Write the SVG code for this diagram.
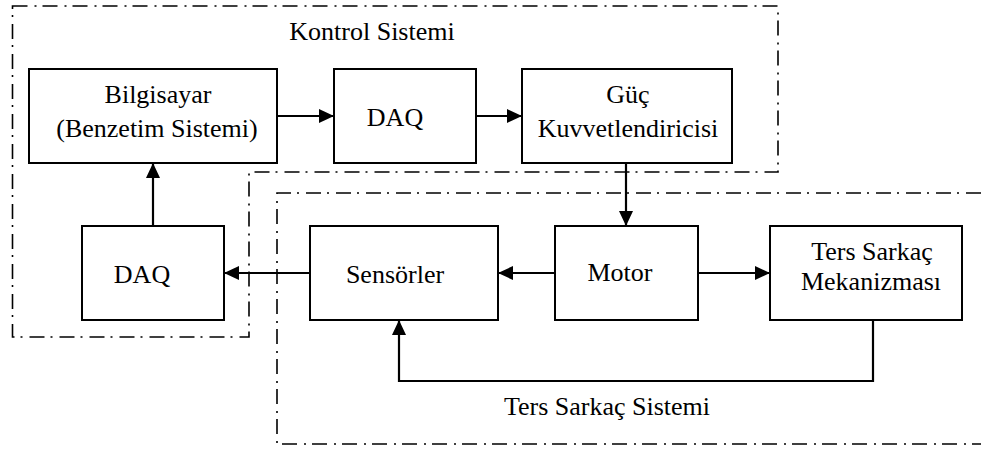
<svg xmlns="http://www.w3.org/2000/svg" width="981" height="450" viewBox="0 0 981 450">
<defs>
<style>
.bnd{fill:none;stroke:#000;stroke-width:1.6;stroke-dasharray:15 7 2 6}
.box{fill:#fff;stroke:#000;stroke-width:2}
.con{fill:none;stroke:#000;stroke-width:2.2}
text{font-family:'Liberation Serif','DejaVu Serif',serif;font-size:26px;fill:#000;text-anchor:middle}
</style>
<marker id="ah" markerUnits="userSpaceOnUse" markerWidth="15" markerHeight="14" refX="15" refY="7" orient="auto">
<path d="M0,0 L15,7 L0,14 z" fill="#000"/>
</marker>
</defs>
<rect width="981" height="450" fill="#fff"/>
<g id="boundaries">
<path class="bnd" d="M12.5,6 H778 V172 H249 V337 H12.5 Z"/>
<path class="bnd" d="M981,193 H277 V444 H981"/>
<text x="372" y="40">Kontrol Sistemi</text>
<text x="607" y="415">Ters Sarkaç Sistemi</text>
</g>
<g id="connectors">
<line class="con" x1="277" y1="116" x2="334" y2="116" marker-end="url(#ah)"/>
<line class="con" x1="476" y1="116" x2="522" y2="116" marker-end="url(#ah)"/>
<line class="con" x1="626" y1="163" x2="626" y2="226" marker-end="url(#ah)"/>
<line class="con" x1="555" y1="273" x2="498" y2="273" marker-end="url(#ah)"/>
<line class="con" x1="698" y1="273" x2="770" y2="273" marker-end="url(#ah)"/>
<line class="con" x1="310" y1="273" x2="224" y2="273" marker-end="url(#ah)"/>
<line class="con" x1="153" y1="226" x2="153" y2="163" marker-end="url(#ah)"/>
<path class="con" d="M873,320 V381 H399 V320" marker-end="url(#ah)"/>
</g>
<g id="bilgisayar">
<rect class="box" x="29" y="69" width="248" height="94"/>
<text x="158" y="103">Bilgisayar</text>
<text x="157" y="137">(Benzetim Sistemi)</text>
</g>
<g id="daq1">
<rect class="box" x="334" y="69" width="142" height="94"/>
<text x="395" y="126">DAQ</text>
</g>
<g id="guc">
<rect class="box" x="522" y="69" width="210" height="94"/>
<text x="628" y="103">Güç</text>
<text x="628" y="137">Kuvvetlendiricisi</text>
</g>
<g id="daq2">
<rect class="box" x="82" y="226" width="142" height="94"/>
<text x="142" y="283">DAQ</text>
</g>
<g id="sensorler">
<rect class="box" x="310" y="226" width="188" height="94"/>
<text x="395" y="283">Sensörler</text>
</g>
<g id="motor">
<rect class="box" x="555" y="226" width="143" height="94"/>
<text x="620" y="281">Motor</text>
</g>
<g id="mekanizma">
<rect class="box" x="770" y="226" width="192" height="94"/>
<text x="872" y="260">Ters Sarkaç</text>
<text x="871" y="290">Mekanizması</text>
</g>
</svg>
